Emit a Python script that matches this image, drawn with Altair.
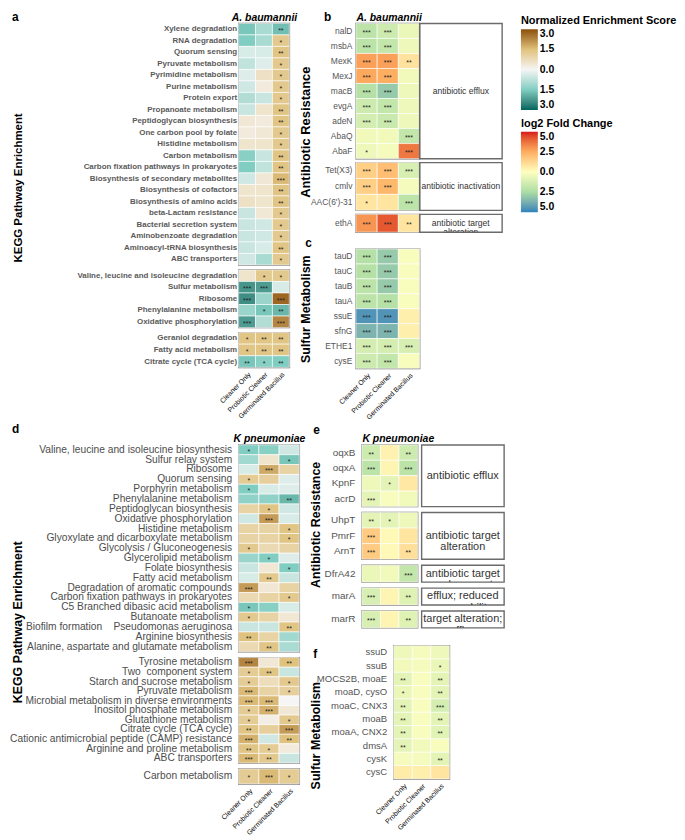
import altair as alt
import pandas as pd

FONT = "Liberation Sans"
COLS = ["Cleaner Only", "Probiotic Cleaner", "Germinated Bacillus"]

# ---------------- Panel a : A. baumannii, KEGG NES ----------------
a1_rows = ["Xylene degradation", "RNA degradation", "Quorum sensing", "Pyruvate metabolism",
           "Pyrimidine metabolism", "Purine metabolism", "Protein export", "Propanoate metabolism",
           "Peptidoglycan biosynthesis", "One carbon pool by folate", "Histidine metabolism",
           "Carbon metabolism", "Carbon fixation pathways in prokaryotes",
           "Biosynthesis of secondary metabolites", "Biosynthesis of cofactors",
           "Biosynthesis of amino acids", "beta-Lactam resistance", "Bacterial secretion system",
           "Aminobenzoate degradation", "Aminoacyl-tRNA biosynthesis", "ABC transporters"]
a1_co = [-1.6, -1.5, -0.4, -0.7, -0.3, -0.5, -0.9, -0.6, 0.4, 0.3, 0.5, -1.4, -1.5, -0.5, 0.5, 0.6, -0.6, -0.6, -0.6, -0.6, -0.5]
a1_pc = [-1.0, -1.0, -0.4, -0.3, 0.6, 0.3, -0.6, 0.5, 0.3, 0.4, 0.5, -0.6, -0.7, 0.4, 0.5, 0.5, 0.4, -0.5, -0.5, -0.4, -1.0]
a1_gb = [-1.7, 1.3, 1.4, 1.3, 1.3, 1.3, 1.3, 1.4, 1.4, 1.3, 1.3, 1.4, 1.4, 1.6, 1.4, 1.4, 1.3, 1.3, 1.3, 1.4, 1.3]
a1_sco = [""] * 21
a1_spc = [""] * 21
a1_sgb = ["**", "*", "**", "*", "*", "*", "*", "**", "**", "*", "*", "**", "**", "***", "**", "**", "*", "*", "*", "**", "*"]

a2_rows = ["Valine, leucine and isoleucine degradation", "Sulfur metabolism", "Ribosome",
           "Phenylalanine metabolism", "Oxidative phosphorylation"]
a2_co = [0.5, -2.3, -2.4, -1.2, -2.2]
a2_pc = [1.3, -2.2, -1.2, -1.6, -0.9]
a2_gb = [1.3, -0.4, 2.7, -1.8, 2.3]
a2_sco = ["", "***", "***", "", "***"]
a2_spc = ["*", "***", "", "*", ""]
a2_sgb = ["*", "", "***", "**", "***"]

a3_rows = ["Geraniol degradation", "Fatty acid metabolism", "Citrate cycle (TCA cycle)"]
a3_co = [1.4, 1.4, -1.6]
a3_pc = [1.4, 1.4, -1.4]
a3_gb = [1.4, 1.4, -1.5]
a3_sco = ["*", "*", "**"]
a3_spc = ["**", "**", "*"]
a3_sgb = ["**", "**", "**"]

# ---------------- Panel b : A. baumannii, antibiotic resistance (log2FC) ----------------
b1_rows = ["nalD", "msbA", "MexK", "MexJ", "macB", "evgA", "adeN", "AbaQ", "AbaF"]
b1_co = [-2.0, -2.0, 2.8, 2.6, -2.2, -1.5, -1.3, -0.4, -0.5]
b1_pc = [-1.5, -1.8, 2.8, 2.5, -3.0, -1.8, -1.6, -0.4, -0.3]
b1_gb = [-0.6, -0.5, 0.9, -0.4, -0.5, -0.5, -0.5, -1.8, 3.6]
b1_sco = ["***"] * 7 + ["", "*"]
b1_spc = ["***"] * 7 + ["", ""]
b1_sgb = ["", "", "**", "", "", "", "", "***", "***"]

b2_rows = ["Tet(X3)", "cmlv", "AAC(6')-31"]
b2_co = [1.5, 1.5, 0.8]
b2_pc = [2.0, 2.2, 0.8]
b2_gb = [-1.2, -0.3, -2.0]
b2_sco = ["***", "***", "*"]
b2_spc = ["***", "***", ""]
b2_sgb = ["***", "", "***"]

b3_rows = ["ethA"]
b3_co = [3.0]
b3_pc = [4.2]
b3_gb = [0.8]
b3_sco = ["***"]
b3_spc = ["***"]
b3_sgb = ["**"]

b_cats = ["antibiotic efflux", "antibiotic inactivation", "antibiotic target\nalteration"]

# ---------------- Panel c : A. baumannii, sulfur metabolism ----------------
c_rows = ["tauD", "tauC", "tauB", "tauA", "ssuE", "sfnG", "ETHE1", "cysE"]
c_co = [-2.2, -2.2, -2.0, -2.0, -4.5, -3.6, -1.3, -1.5]
c_pc = [-3.0, -3.0, -3.0, -2.2, -4.5, -3.6, -1.3, -1.8]
c_gb = [-0.2, -0.2, -0.2, -0.2, 0.5, 0.5, -1.2, -0.2]
c_sco = ["***"] * 8
c_spc = ["***"] * 8
c_sgb = ["", "", "", "", "", "", "***", ""]

# ---------------- Panel d : K. pneumoniae, KEGG NES ----------------
d1_rows = ["Valine, leucine and isoleucine biosynthesis", "Sulfur relay system", "Ribosome",
           "Quorum sensing", "Porphyrin metabolism", "Phenylalanine metabolism",
           "Peptidoglycan biosynthesis", "Oxidative phosphorylation", "Histidine metabolism",
           "Glyoxylate and dicarboxylate metabolism", "Glycolysis / Gluconeogenesis",
           "Glycerolipid metabolism", "Folate biosynthesis", "Fatty acid metabolism",
           "Degradation of aromatic compounds", "Carbon fixation pathways in prokaryotes",
           "C5 Branched dibasic acid metabolism", "Butanoate metabolism",
           "Biofilm formation\u00a0\u00a0\u00a0\u00a0Pseudomonas aeruginosa", "Arginine biosynthesis",
           "Alanine, aspartate and glutamate metabolism"]
d1_co = [-1.5, -1.1, -0.4, 1.2, -1.5, -1.3, 1.0, -0.5, 1.0, 1.0, 1.3, -1.2, -0.6, -0.4, 2.0, 0.8, -1.6, 1.3, -0.6, 1.5, 0.8]
d1_pc = [-1.4, 0.5, 1.8, 1.1, -0.4, -1.3, 1.4, 2.0, 1.0, 1.0, 0.8, -1.5, 0.4, 1.3, 0.4, 1.0, -1.4, 1.0, -0.6, 1.0, 1.4]
d1_gb = [-0.5, -1.6, 1.0, -0.3, -0.3, -1.8, -0.5, -0.4, 1.4, 1.4, 1.0, -0.3, -1.5, -0.6, 1.0, 1.3, -0.4, 0.4, 1.4, -1.1, -1.0]
d1_sco = ["*", "", "", "*", "*", "", "", "", "", "", "*", "", "", "", "***", "", "*", "*", "", "**", ""]
d1_spc = ["", "", "***", "", "", "", "*", "***", "", "", "", "*", "", "**", "", "", "", "", "", "", "**"]
d1_sgb = ["", "*", "", "", "", "**", "", "", "*", "*", "", "", "*", "", "", "*", "", "", "**", "", ""]

d2_rows = ["Tyrosine metabolism", "Two\u00a0\u00a0component system", "Starch and sucrose metabolism",
           "Pyruvate metabolism", "Microbial metabolism in diverse environments",
           "Inositol phosphate metabolism", "Glutathione metabolism", "Citrate cycle (TCA cycle)",
           "Cationic antimicrobial peptide (CAMP) resistance", "Arginine and proline metabolism",
           "ABC transporters"]
d2_co = [2.3, 1.2, 1.2, 1.6, 1.6, 1.2, 1.2, 1.4, 1.7, 1.4, 1.6]
d2_pc = [0.4, 1.4, 0.7, 1.0, 1.6, 1.7, 0.2, 1.1, -0.5, 1.2, 1.3]
d2_gb = [1.5, -0.6, 1.3, 1.1, 0.0, 0.4, 1.3, 2.0, 1.5, 0.3, -0.6]
d2_sco = ["***", "*", "*", "***", "***", "*", "*", "**", "***", "**", "***"]
d2_spc = ["", "**", "", "", "***", "***", "", "", "", "*", "**"]
d2_sgb = ["**", "", "*", "*", "", "", "*", "***", "**", "", ""]

d3_rows = ["Carbon metabolism"]
d3_co = [1.2]
d3_pc = [1.6]
d3_gb = [1.2]
d3_sco = ["*"]
d3_spc = ["***"]
d3_sgb = ["*"]

# ---------------- Panel e : K. pneumoniae, antibiotic resistance ----------------
e1_rows = ["oqxB", "oqxA", "KpnF", "acrD"]
e1_co = [-1.5, -2.0, -0.5, -0.8]
e1_pc = [0.4, 0.3, -0.8, -0.2]
e1_gb = [-1.5, -2.0, 0.7, -0.4]
e1_sco = ["**", "***", "", "***"]
e1_spc = ["", "", "*", ""]
e1_sgb = ["**", "***", "", ""]

e2_rows = ["UhpT", "PmrF", "ArnT"]
e2_co = [-0.8, 1.6, 1.6]
e2_pc = [-0.8, 0.2, 0.2]
e2_gb = [-0.5, 0.8, 1.0]
e2_sco = ["**", "***", "***"]
e2_spc = ["*", "", ""]
e2_sgb = ["", "", "**"]

e3_rows = ["DfrA42"]
e3_co = [-0.6]
e3_pc = [-0.4]
e3_gb = [-1.8]
e3_sco = [""]
e3_spc = [""]
e3_sgb = ["***"]

e4_rows = ["marA"]
e4_co = [-1.2]
e4_pc = [0.3]
e4_gb = [-1.0]
e4_sco = ["***"]
e4_spc = [""]
e4_sgb = ["**"]

e5_rows = ["marR"]
e5_co = [-1.2]
e5_pc = [0.3]
e5_gb = [-1.0]
e5_sco = ["***"]
e5_spc = [""]
e5_sgb = ["**"]

e_cats = ["antibiotic efflux", "antibiotic target\nalteration", "antibiotic target\nreplacement",
          "efflux; reduced\npermeability", "target alteration;\nefflux"]

# ---------------- Panel f : K. pneumoniae, sulfur metabolism ----------------
f_rows = ["ssuD", "ssuB", "MOCS2B, moaE", "moaD, cysO", "moaC, CNX3", "moaB", "moaA, CNX2",
          "dmsA", "cysK", "cysC"]
f_co = [-0.5, -0.4, -0.8, -0.6, -0.8, -0.8, -0.8, -0.8, -0.3, 0.6]
f_pc = [-0.3, -0.3, -0.2, -0.2, -0.2, -0.2, -0.2, -0.4, -0.3, 0.5]
f_gb = [-0.5, -0.6, -0.8, -0.8, -1.3, -0.8, -0.9, -0.2, -0.8, 0.8]
f_sco = ["", "", "**", "*", "**", "**", "**", "**", "", ""]
f_spc = [""] * 10
f_sgb = ["", "*", "**", "**", "***", "**", "**", "", "**", ""]

# ---------------- scales / legends ----------------
NES_SCALE = alt.Scale(domain=[-3, -1.5, 0, 1.5, 3],
                      range=["#01665E", "#80CDC1", "#F5F5F5", "#DFC27D", "#8C510A"],
                      interpolate="lab", clamp=True)
LFC_SCALE = alt.Scale(domain=[-5, -2.5, 0, 2.5, 5],
                      range=["#2B83BA", "#ABDDA4", "#FFFFBF", "#FDAE61", "#D7191C"],
                      interpolate="lab", clamp=True)
NES_LEGEND = alt.Legend(title="Normalized Enrichment Score", values=[-3, -1.5, 0, 1.5, 3],
                        labelExpr="format(abs(datum.value), '.1f')", direction="vertical",
                        gradientLength=81, gradientThickness=17, orient="none",
                        legendX=284, legendY=-8)
LFC_LEGEND = alt.Legend(title="log2 Fold Change", values=[-5, -2.5, 0, 2.5, 5],
                        labelExpr="format(abs(datum.value), '.1f')", direction="vertical",
                        gradientLength=81, gradientThickness=17, orient="none",
                        legendX=284, legendY=95)


def heat(rows, co, pc, gb, sco, spc, sgb, kind, w, h, lab, top=None, top_anchor="middle",
         bottom=False, yt=None, tag=None):
    recs = []
    for i, r in enumerate(rows):
        for c, v, s in zip(COLS, (co[i], pc[i], gb[i]), (sco[i], spc[i], sgb[i])):
            recs.append({"row": r, "col": c, "v": v, "s": s})
    df = pd.DataFrame(recs)
    if top:
        xax = alt.Axis(orient="top", labels=False, ticks=False, domain=False, title=top,
                       titleFontStyle="italic", titleFontWeight="bold", titleFontSize=10.5,
                       titleAnchor=top_anchor, titlePadding=1, titleColor="black")
    elif bottom:
        xax = alt.Axis(orient="bottom", labelAngle=-45, labelAlign="right", labelBaseline="top",
                       ticks=False, domain=False, title=None, labelFontSize=7,
                       labelColor="black", labelPadding=3)
    else:
        xax = None
    ykw = dict(title=None, ticks=False, domain=False, labelFontSize=lab[0], labelColor=lab[1],
               labelFontWeight=lab[2], labelPadding=lab[3], labelLimit=400)
    if yt:
        ykw.update(title=yt[0], titleX=yt[1], titleY=yt[2], titleFontSize=yt[3],
                   titleFontWeight="bold", titleColor="black")
    base = alt.Chart(df).encode(
        x=alt.X("col:N", sort=COLS, scale=alt.Scale(paddingInner=0, paddingOuter=0), axis=xax),
        y=alt.Y("row:N", sort=rows, scale=alt.Scale(paddingInner=0, paddingOuter=0),
                axis=alt.Axis(**ykw)),
    )
    if kind == "nes":
        rect = base.mark_rect(stroke="white", strokeWidth=0.6).encode(
            color=alt.Color("v:Q", scale=NES_SCALE, legend=NES_LEGEND))
    else:
        rect = base.mark_rect(stroke="white", strokeWidth=0.6).encode(
            fill=alt.Fill("v:Q", scale=LFC_SCALE, legend=LFC_LEGEND))
    txt = base.mark_text(fontSize=7, dy=2, color="#222").encode(text="s:N")
    layers = [rect, txt]
    if tag:
        tdf = pd.DataFrame({"t": [tag[0]]})
        layers.append(alt.Chart(tdf).mark_text(align="left", baseline="middle", fontSize=12,
                                               fontWeight="bold", color="black").encode(
            text="t:N", x=alt.value(tag[1]), y=alt.value(tag[2])))
    return alt.layer(*layers).properties(width=w, height=h)


def cat(label, w, h, fs):
    df = pd.DataFrame({"t": [label], "k": ["k"]})
    return alt.Chart(df).mark_text(fontSize=fs, lineBreak="\n", color="#333", clip=True,
                                   lineHeight=fs * 1.05).encode(
        text="t:N",
        x=alt.X("k:N", axis=None),
        y=alt.Y("k:N", axis=None),
    ).properties(width=w, height=h)


def spacer():
    df = pd.DataFrame({"z": [""]})
    return alt.Chart(df).mark_text(fontSize=1).encode(
        text="z:N", x=alt.value(0), y=alt.value(0)).properties(
        width=1, height=1, view=alt.ViewBackground(stroke="transparent"))


LAB_A = (8, "#5A5A5A", "bold", 2)
LAB_B = (8.5, "#555555", "normal", 4)
LAB_D = (10.3, "#4D4D4D", "normal", 7)
LAB_E = (10, "#555555", "normal", 7)
LAB_F = (9.6, "#555555", "normal", 7)

# panel a
a1 = heat(a1_rows, a1_co, a1_pc, a1_gb, a1_sco, a1_spc, a1_sgb, "nes", 51, 243, LAB_A,
          top="A. baumannii", yt=("KEGG Pathway Enrichment", -216.5, 165, 11.5), tag=("a", -228, -6))
a2 = heat(a2_rows, a2_co, a2_pc, a2_gb, a2_sco, a2_spc, a2_sgb, "nes", 51, 58, LAB_A)
a3 = heat(a3_rows, a3_co, a3_pc, a3_gb, a3_sco, a3_spc, a3_sgb, "nes", 51, 35, LAB_A, bottom=True)
panel_a = alt.vconcat(a1, a2, a3, spacing=5, bounds="flush")

# panel b + c
b1 = heat(b1_rows, b1_co, b1_pc, b1_gb, b1_sco, b1_spc, b1_sgb, "lfc", 64, 136, LAB_B,
          top="A. baumannii", top_anchor="start",
          yt=("Antibiotic Resistance", -44, 109, 13), tag=("b", -32, -6))
b2 = heat(b2_rows, b2_co, b2_pc, b2_gb, b2_sco, b2_spc, b2_sgb, "lfc", 64, 48, LAB_B)
b3 = heat(b3_rows, b3_co, b3_pc, b3_gb, b3_sco, b3_spc, b3_sgb, "lfc", 64, 18, LAB_B)
cc = heat(c_rows, c_co, c_pc, c_gb, c_sco, c_spc, c_sgb, "lfc", 64, 120, LAB_B, bottom=True,
          yt=("Sulfur Metabolism", -44, 60, 12.5), tag=("c", -51, -6))
grid_b = alt.concat(b1, cat(b_cats[0], 83, 136, 8.6), b2, cat(b_cats[1], 83, 48, 8.6),
                    b3, cat(b_cats[2], 83, 18, 8.6),
                    columns=2, spacing={"row": 4, "column": 0}, align="each", bounds="flush")
panel_bc = alt.vconcat(grid_b, cc, spacing=3)

top_row = alt.hconcat(panel_a, panel_bc, spacing=0)

# panel d
d1 = heat(d1_rows, d1_co, d1_pc, d1_gb, d1_sco, d1_spc, d1_sgb, "nes", 61, 208, LAB_D,
          top="K pneumoniae", yt=("KEGG Pathway Enrichment", -215.5, 178, 12.5), tag=("d", -228, -16))
d2 = heat(d2_rows, d2_co, d2_pc, d2_gb, d2_sco, d2_spc, d2_sgb, "nes", 61, 106, LAB_D)
d3 = heat(d3_rows, d3_co, d3_pc, d3_gb, d3_sco, d3_spc, d3_sgb, "nes", 61, 15, LAB_D, bottom=True)
panel_d = alt.vconcat(d1, d2, d3, spacing=6, bounds="flush")

# panel e + f
e1 = heat(e1_rows, e1_co, e1_pc, e1_gb, e1_sco, e1_spc, e1_sgb, "lfc", 56, 62, LAB_E,
          top="K pneumoniae", top_anchor="start",
          yt=("Antibiotic Resistance", -40, 80, 12.5), tag=("e", -49, -15))
e2 = heat(e2_rows, e2_co, e2_pc, e2_gb, e2_sco, e2_spc, e2_sgb, "lfc", 56, 47, LAB_E)
e3 = heat(e3_rows, e3_co, e3_pc, e3_gb, e3_sco, e3_spc, e3_sgb, "lfc", 56, 17, LAB_E)
e4 = heat(e4_rows, e4_co, e4_pc, e4_gb, e4_sco, e4_spc, e4_sgb, "lfc", 56, 17, LAB_E)
e5 = heat(e5_rows, e5_co, e5_pc, e5_gb, e5_sco, e5_spc, e5_sgb, "lfc", 56, 17, LAB_E)
e_grid = alt.concat(e1, cat(e_cats[0], 83, 62, 11), e2, cat(e_cats[1], 83, 47, 11),
                    e3, cat(e_cats[2], 83, 17, 11), e4, cat(e_cats[3], 83, 17, 11),
                    e5, cat(e_cats[4], 83, 17, 11),
                    columns=2, spacing={"row": 6, "column": 4}, align="each", bounds="flush")
ff = heat(f_rows, f_co, f_pc, f_gb, f_sco, f_spc, f_sgb, "lfc", 56, 134, LAB_F, bottom=True,
          yt=("Sulfur Metabolism", -72, 90, 12.5), tag=("f", -81, 8))
panel_ef = alt.vconcat(alt.hconcat(spacer(), e_grid, spacing=0),
                       alt.hconcat(spacer(), ff, spacing=0), spacing=15)

bottom_row = alt.hconcat(panel_d, panel_ef, spacing=-6)

chart = alt.vconcat(top_row, bottom_row, spacing=1).properties(padding=0).configure(
    font=FONT
).configure_view(
    stroke="#6B6B6B", strokeWidth=1.4
).configure_axis(
    labelFont=FONT, titleFont=FONT
).configure_legend(
    titleFontSize=11, titleFontWeight="bold", titleColor="black", titleLimit=300,
    labelFontSize=10.5, labelFontWeight="bold", labelColor="black", labelBaseline="middle",
    labelOffset=5, gradientStrokeWidth=0, padding=0, titlePadding=3
)

chart.save("out.html", embed_options={"renderer": "svg", "actions": False})
